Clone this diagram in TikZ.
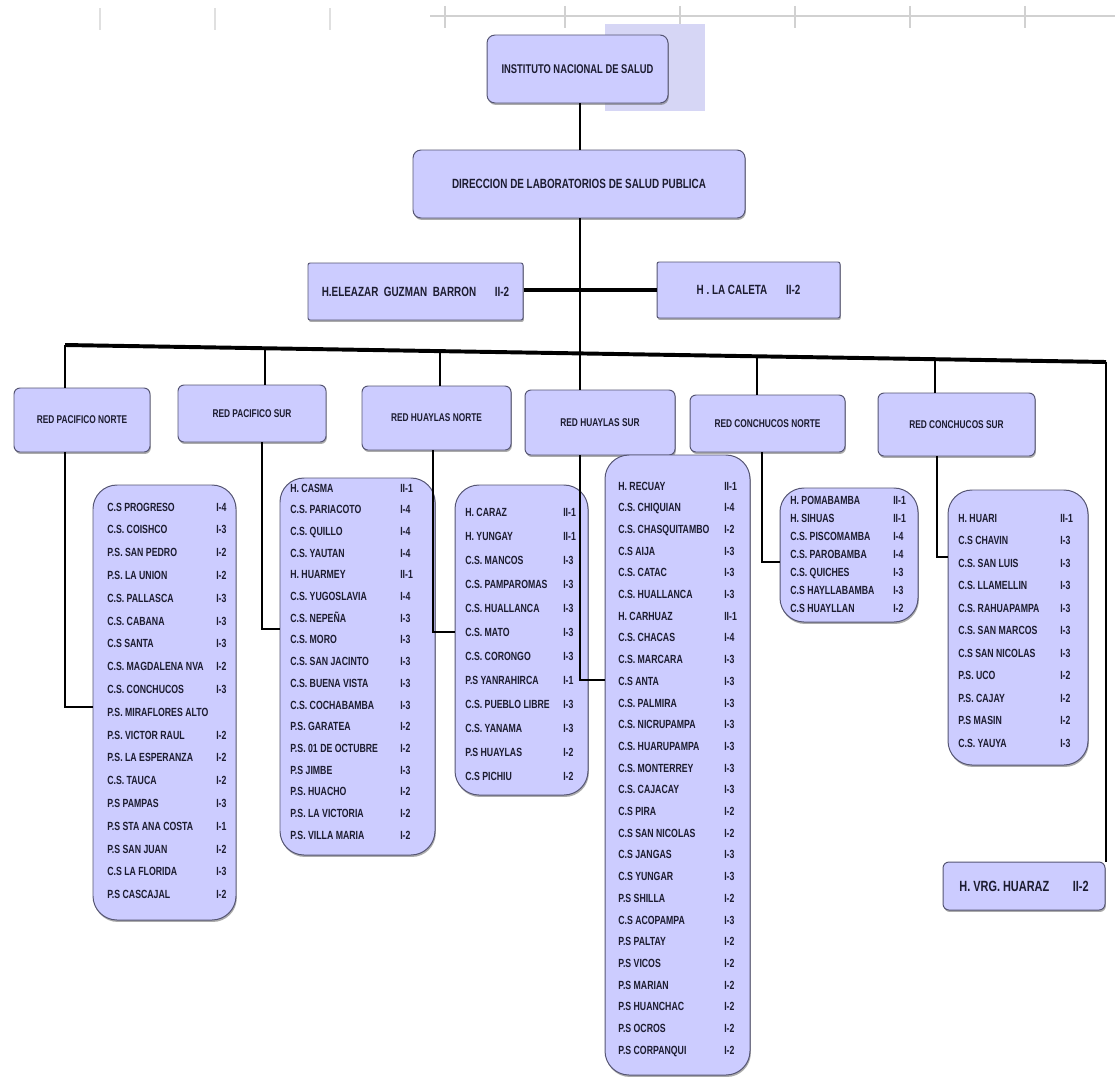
\documentclass[tikz,border=0pt]{standalone}
\usepackage{fontspec}
\setmainfont{Liberation Sans}[FakeStretch=0.74]
\usetikzlibrary{shadows,calc}
\definecolor{boxfill}{RGB}{204,204,255}
\definecolor{boxdraw}{RGB}{85,85,115}
\definecolor{txt}{RGB}{28,28,48}
\definecolor{backfill}{RGB}{214,214,245}
\newcommand\mkbox[7]{\node[#6, minimum width={(#4-#2)*0.025cm}, minimum height={(#5-#3)*0.025cm}] (#1) at ({(#2+#4)/2},{(#3+#5)/2}) {#7};}
\newcommand\mkrows[6]{%
  \foreach \nm/\lv [count=\i] in {#6} {
    \node[rowtxt] (#1n\i) at (#2,{#4+4+(\i-1)*#5}) {\nm};
    \node[rowtxt] (#1l\i) at (#3,{#4+4+(\i-1)*#5}) {\lv};
  }}
\begin{document}
\begin{tikzpicture}[x=0.025cm,y=-0.025cm,
  orgbox/.style={draw=boxdraw, fill=boxfill, line width=0.7pt, inner sep=0pt, text=txt,
    drop shadow={shadow xshift=0.6pt, shadow yshift=-1.4pt, fill=black!55, opacity=0.6}},
  topbox/.style={orgbox, rounded corners=0.2cm, font=\fontsize{9}{10}\selectfont\bfseries},
  dirbox/.style={orgbox, rounded corners=0.2cm, font=\fontsize{9.5}{10}\selectfont\bfseries},
  hospbox/.style={orgbox, rounded corners=0.05cm, font=\fontsize{9.5}{10}\selectfont\bfseries},
  redbox/.style={orgbox, rounded corners=0.15cm, font=\fontsize{8}{9}\selectfont\bfseries},
  listbox/.style={orgbox, rounded corners=0.6cm},
  rowtxt/.style={anchor=base west, inner sep=0pt, text=txt, font=\fontsize{8.4}{9}\selectfont\bfseries},
  link/.style={line width=1.6pt, black},
  elbow/.style={line width=2pt, black},
  buslink/.style={line width=2.8pt, black},
  ruler/.style={line width=0.8pt, black!18}]
\useasboundingbox (0,0) rectangle (1115,1084);
% faint ruler at the top
\draw[ruler] (430,16) -- (1115,16);
\foreach \tx in {445,565,680,795,910,1025} {\draw[ruler] (\tx,6) -- (\tx,28);}
\foreach \tx in {100,215,330} {\draw[ruler, black!12] (\tx,8) -- (\tx,30);}
\fill[backfill] (605,24) rectangle (705,111);
% top levels
\mkbox{ins}{487}{35}{668}{103}{topbox}{INSTITUTO NACIONAL DE SALUD}
\mkbox{dir}{413}{150}{745}{218}{dirbox}{DIRECCION DE LABORATORIOS DE SALUD PUBLICA}
\mkbox{ele}{308}{263}{523}{320}{hospbox}{H.ELEAZAR\ \ GUZMAN\ \ BARRON\hspace{1.4em}II-2}
\mkbox{cal}{657}{262}{840}{318}{hospbox}{H . LA CALETA\hspace{1.4em}II-2}
% red boxes
\mkbox{r1}{14}{388}{150}{452}{redbox}{RED PACIFICO NORTE}
\mkbox{r2}{178}{385}{326}{442}{redbox}{RED PACIFICO SUR}
\mkbox{r3}{362}{386}{511}{450}{redbox}{RED HUAYLAS NORTE}
\mkbox{r4}{525}{390}{675}{455}{redbox}{RED HUAYLAS SUR}
\mkbox{r5}{690}{395}{845}{452}{redbox}{RED CONCHUCOS NORTE}
\mkbox{r6}{878}{393}{1035}{456}{redbox}{RED CONCHUCOS SUR}
% list boxes
\mkbox{b1}{93}{485}{236}{920}{listbox}{}
\mkbox{b2}{280}{478}{435}{855}{listbox}{}
\mkbox{b3}{455}{485}{588}{795}{listbox}{}
\mkbox{b4}{605}{455}{750}{1075}{listbox}{}
\mkbox{b5}{780}{488}{918}{622}{listbox}{}
\mkbox{b6}{948}{490}{1088}{765}{listbox}{}
\mkbox{vrg}{943}{862}{1105}{910}{orgbox, rounded corners=0.15cm, font=\fontsize{10.5}{12}\selectfont\bfseries}{H. VRG. HUARAZ\hspace{1.6em}II-2}
% bus and junctions
\coordinate (busL) at (65,345);
\coordinate (busR) at (1106,362);
\coordinate (j2) at (265,348.3);
\coordinate (j3) at (440,351.1);
\coordinate (j4) at (580,353.4);
\coordinate (j5) at (757,356.3);
\coordinate (j6) at (935,359.2);
\coordinate (jh) at (580,290);
% connectors
\draw[link] (ins.south -| j4) -- (dir.north -| j4);
\draw[link] (dir.south -| j4) -- (r4.north -| j4);
\draw[buslink] (ele.east |- jh) -- (cal.west |- jh);
\draw[buslink] (busL) -- (busR);
\draw[link] (busL) -- (r1.north -| busL);
\draw[link] (j2) -- (r2.north -| j2);
\draw[link] (j3) -- (r3.north -| j3);
\draw[link] (j5) -- (r5.north -| j5);
\draw[link] (j6) -- (r6.north -| j6);
\draw[link] (busR) -- (vrg.north -| busR);
\draw[elbow] (r1.south -| 65,0) |- (b1.west |- 0,707);
\draw[elbow] (r2.south -| 262,0) |- (b2.west |- 0,629);
\draw[elbow] (r3.south -| 433,0) |- (b3.west |- 0,632);
\draw[elbow] (r4.south -| j4) |- (b4.west |- 0,680);
\draw[elbow] (r5.south -| 762,0) |- (b5.west |- 0,562);
\draw[elbow] (r6.south -| 937,0) |- (b6.west |- 0,557);
% list texts
\mkrows{b1}{107}{216}{507}{22.8}{C.S PROGRESO/I-4, C.S. COISHCO/I-3, P.S. SAN PEDRO/I-2, P.S. LA UNION/I-2, C.S. PALLASCA/I-3, C.S. CABANA/I-3, C.S SANTA/I-3, C.S. MAGDALENA NVA/I-2, C.S. CONCHUCOS/I-3, P.S. MIRAFLORES ALTO/, P.S. VICTOR RAUL/I-2, P.S. LA ESPERANZA/I-2, C.S. TAUCA/I-2, P.S PAMPAS/I-3, P.S STA ANA COSTA/I-1, P.S SAN JUAN/I-2, C.S LA FLORIDA/I-3, P.S CASCAJAL/I-2}
\mkrows{b2}{290}{400}{488}{21.7}{H. CASMA/II-1, C.S. PARIACOTO/I-4, C.S. QUILLO/I-4, C.S. YAUTAN/I-4, H. HUARMEY/II-1, C.S. YUGOSLAVIA/I-4, C.S. NEPEÑA/I-3, C.S. MORO/I-3, C.S. SAN JACINTO/I-3, C.S. BUENA VISTA/I-3, C.S. COCHABAMBA/I-3, P.S. GARATEA/I-2, P.S. 01 DE OCTUBRE/I-2, P.S JIMBE/I-3, P.S. HUACHO/I-2, P.S. LA VICTORIA/I-2, P.S. VILLA MARIA/I-2}
\mkrows{b3}{465}{563}{512}{24}{H. CARAZ/II-1, H. YUNGAY/II-1, C.S. MANCOS/I-3, C.S. PAMPAROMAS/I-3, C.S. HUALLANCA/I-3, C.S. MATO/I-3, C.S. CORONGO/I-3, P.S YANRAHIRCA/I-1, C.S. PUEBLO LIBRE/I-3, C.S. YANAMA/I-3, P.S HUAYLAS/I-2, C.S PICHIU/I-2}
\mkrows{b4}{618}{724}{486}{21.7}{H. RECUAY/II-1, C.S. CHIQUIAN/I-4, C.S. CHASQUITAMBO/I-2, C.S AIJA/I-3, C.S. CATAC/I-3, C.S. HUALLANCA/I-3, H. CARHUAZ/II-1, C.S. CHACAS/I-4, C.S. MARCARA/I-3, C.S ANTA/I-3, C.S. PALMIRA/I-3, C.S. NICRUPAMPA/I-3, C.S. HUARUPAMPA/I-3, C.S. MONTERREY/I-3, C.S. CAJACAY/I-3, C.S PIRA/I-2, C.S SAN NICOLAS/I-2, C.S JANGAS/I-3, C.S YUNGAR/I-3, P.S SHILLA/I-2, C.S ACOPAMPA/I-3, P.S PALTAY/I-2, P.S VICOS/I-2, P.S MARIAN/I-2, P.S HUANCHAC/I-2, P.S OCROS/I-2, P.S CORPANQUI/I-2}
\mkrows{b5}{790}{893}{500}{18}{H. POMABAMBA/II-1, H. SIHUAS/II-1, C.S. PISCOMAMBA/I-4, C.S. PAROBAMBA/I-4, C.S. QUICHES/I-3, C.S HAYLLABAMBA/I-3, C.S HUAYLLAN/I-2}
\mkrows{b6}{958}{1060}{518}{22.5}{H. HUARI/II-1, C.S CHAVIN/I-3, C.S. SAN LUIS/I-3, C.S. LLAMELLIN/I-3, C.S. RAHUAPAMPA/I-3, C.S. SAN MARCOS/I-3, C.S SAN NICOLAS/I-3, P.S. UCO/I-2, P.S. CAJAY/I-2, P.S MASIN/I-2, C.S. YAUYA/I-3}
\end{tikzpicture}
\end{document}
